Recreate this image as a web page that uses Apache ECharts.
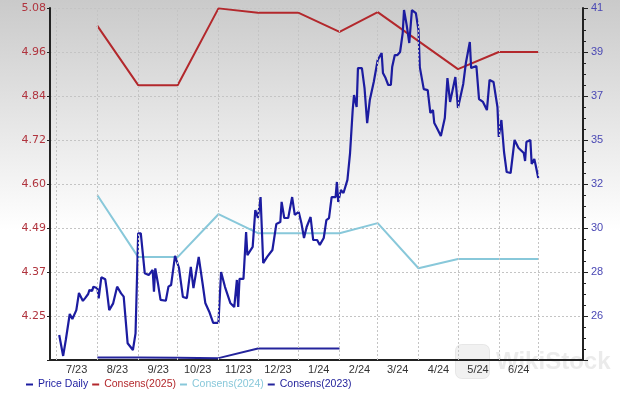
<!DOCTYPE html>
<html>
<head>
<meta charset="utf-8">
<title>Price and Consensus</title>
<script src="https://cdn.jsdelivr.net/npm/echarts@6/dist/echarts.min.js"></script>
<style>
  html, body { margin: 0; padding: 0; background: #fff; }
  #chart { width: 620px; height: 398px; }
</style>
</head>
<body>
<div id="chart"></div>
<script>
// x range and month labels
const xStart = '2023-06-26'
const xEnd = '2024-08-04'
const priceStart = [2023, 6, 1] // day 0 of priceDays (Jul 1 2023)
const monthKeys = ['2023-7', '2023-8', '2023-9', '2023-10', '2023-11', '2023-12', '2024-1', '2024-2', '2024-3', '2024-4', '2024-5', '2024-6']
const monthLabels = ['7/23', '8/23', '9/23', '10/23', '11/23', '12/23', '1/24', '2/24', '3/24', '4/24', '5/24', '6/24']
const gridMonths = ['2023-07-01', '2023-08-01', '2023-09-01', '2023-10-01', '2023-11-01', '2023-12-01', '2024-01-01', '2024-02-01', '2024-03-01', '2024-04-01', '2024-05-01', '2024-06-01', '2024-07-01']

// tick labels
const leftStep = 0.118
const leftTickLabels = ['4.25', '4.37', '4.49', '4.60', '4.72', '4.84', '4.96', '5.08']
const rightStep = 2.16
const rightTickLabels = ['26', '28', '30', '32', '35', '37', '39', '41']

// daily price (days after Jul 1 2023)
const priceDays = [2, 5, 7, 10, 12, 15, 17, 20, 22, 24, 25, 27, 28, 31, 32, 34, 37, 38, 40, 43,
  46, 49, 51, 54, 58, 60, 62, 64, 67, 70, 73, 74, 75, 77, 79, 83, 85, 87, 90, 93,
  96, 99, 102, 104, 108, 111, 113, 116, 119, 123, 125, 128, 132, 135, 137, 138, 139, 142, 144, 145,
  149, 151, 153, 155, 157, 160, 164, 167, 170, 171, 173, 176, 179, 181, 184, 186, 188, 190, 193, 195,
  198, 200, 203, 205, 207, 209, 212, 213, 214, 216, 218, 221, 223, 225, 226, 228, 229, 232, 234, 236,
  238, 241, 244, 247, 248, 250, 252, 254, 255, 257, 259, 261, 263, 264, 266, 268, 270, 273, 275, 276,
  279, 282, 284, 286, 287, 289, 292, 295, 297, 299, 303, 305, 309, 311, 314, 315, 319, 321, 324, 327,
  329, 332, 335, 336, 338, 340, 342, 345, 348, 351, 355, 356, 357, 360, 361, 363, 364, 366]
const priceValues = [24.99, 23.96, 24.74, 26.02, 25.77, 26.21, 27.05, 26.66, 26.82, 27.00, 27.20, 27.15, 27.36, 27.28, 26.79, 27.82, 27.72, 27.28, 26.21, 26.54,
  27.36, 27.03, 26.87, 24.58, 24.25, 25.07, 29.98, 29.98, 28.02, 27.93, 28.18, 27.11, 28.26, 27.53, 26.71, 26.67, 27.36, 27.44, 28.87, 28.28,
  26.85, 26.80, 28.33, 27.29, 28.82, 27.49, 26.56, 26.13, 25.58, 25.58, 28.08, 27.34, 26.56, 26.36, 27.69, 26.36, 27.74, 27.74, 30.04, 28.91,
  29.31, 31.12, 30.73, 31.76, 28.52, 28.82, 29.16, 30.44, 30.53, 31.52, 30.73, 30.73, 31.76, 30.88, 31.03, 30.49, 29.75, 30.29, 30.78, 29.65,
  29.65, 29.41, 29.75, 30.63, 30.73, 31.76, 31.76, 32.50, 31.52, 32.11, 31.96, 32.60, 33.92, 36.03, 36.77, 36.18, 38.09, 38.09, 37.11, 35.39,
  36.52, 37.41, 38.49, 38.83, 37.85, 37.60, 37.26, 37.26, 38.14, 38.73, 38.73, 38.88, 39.81, 40.94, 40.21, 39.32, 40.94, 40.79, 39.96, 38.14,
  37.06, 37.01, 35.89, 36.03, 35.39, 35.15, 34.76, 35.64, 37.60, 36.43, 37.65, 36.13, 37.31, 38.34, 39.37, 38.09, 38.19, 36.57, 36.43, 36.03,
  37.51, 37.41, 36.18, 34.71, 35.54, 33.97, 32.99, 32.94, 34.56, 34.17, 33.92, 33.53, 34.46, 34.56, 33.38, 33.63, 33.33, 32.69]

// consensus estimates, first of each month Aug 2023 .. Jul 2024
const consMonths = ['2023-08-01', '2023-09-01', '2023-10-01', '2023-11-01', '2023-12-01', '2024-01-01', '2024-02-01', '2024-03-01', '2024-04-01', '2024-05-01', '2024-06-01', '2024-07-01']
const cons2025 = [5.026, 4.867, 4.867, 5.073, 5.061, 5.061, 5.010, 5.063, null, 4.910, 4.956, 4.956]
const cons2024 = [4.572, 4.406, 4.406, 4.521, 4.470, 4.470, 4.470, 4.497, 4.376, 4.401, 4.401, 4.401]
const cons2023 = [4.137, 4.137, 4.136, 4.135, 4.161, 4.161, 4.161]

const colors = {
  price: '#1c1ca0',
  c2025: '#b3282c',
  c2024: '#88c8da',
  c2023: '#24249c'
}

const pricePairs = priceDays.map((d, i) => [new Date(priceStart[0], priceStart[1], priceStart[2] + d).getTime(), priceValues[i]])
const pairs = (vals) => vals.map((v, i) => [consMonths[i], v])

const chart = echarts.init(document.getElementById('chart'))

chart.setOption({
  animation: false,
  backgroundColor: {
    type: 'linear', x: 0, y: 0, x2: 0, y2: 1,
    colorStops: [
      { offset: 0, color: '#cacaca' },
      { offset: 0.58, color: '#ffffff' },
      { offset: 1, color: '#ffffff' }
    ]
  },
  textStyle: { fontFamily: 'Liberation Sans' },
  grid: { left: 50, right: 37, top: 8, bottom: 38 },
  legend: {
    left: 21,
    bottom: 3,
    icon: 'rect',
    itemWidth: 7,
    itemHeight: 2,
    itemGap: 4,
    formatter: name => '{t|' + name + '}',
    textStyle: {
      fontSize: 10.5,
      fontFamily: 'Liberation Sans',
      rich: { t: { width: 70, fontSize: 10.5, fontFamily: 'Liberation Sans' } }
    },
    data: [
      { name: 'Price Daily', textStyle: { color: colors.price } },
      { name: 'Consens(2025)', textStyle: { color: colors.c2025 } },
      { name: 'Consens(2024)', textStyle: { color: colors.c2024 } },
      { name: 'Consens(2023)', textStyle: { color: colors.c2023 } }
    ]
  },
  xAxis: {
    type: 'time',
    min: xStart,
    max: xEnd,
    minInterval: 28 * 86400000,
    maxInterval: 31 * 86400000,
    axisLine: { lineStyle: { color: '#222', width: 2 } },
    axisTick: { show: false },
    splitLine: { show: false },
    axisLabel: {
      color: '#333',
      fontSize: 11,
      margin: 4,
      align: 'center',
      padding: [0, 0, 0, 40],
      showMinLabel: false,
      showMaxLabel: false,
      formatter: function (v) {
        const d = new Date(v)
        if (d.getDate() !== 1) return ''
        const i = monthKeys.indexOf(d.getFullYear() + '-' + (d.getMonth() + 1))
        return i < 0 ? '' : monthLabels[i]
      }
    }
  },
  yAxis: [
    {
      type: 'value',
      position: 'left',
      min: 35 * leftStep,
      max: 43 * leftStep,
      interval: leftStep,
      axisLine: { show: true, lineStyle: { color: '#222', width: 2 } },
      axisTick: { show: true, length: 3, lineStyle: { color: '#222' } },
      splitLine: { lineStyle: { color: '#c4c4c4', type: [2, 2] } },
      axisLabel: {
        color: '#b0343e',
        fontSize: 11,
        fontFamily: 'DejaVu Sans',
        margin: 4,
        formatter: function (v) {
          return leftTickLabels[Math.round(v / leftStep) - 36] || ''
        }
      }
    },
    {
      type: 'value',
      position: 'right',
      min: 11 * rightStep,
      max: 19 * rightStep,
      interval: rightStep,
      axisLine: { show: true, lineStyle: { color: '#222', width: 2 } },
      axisTick: { show: true, length: 5, lineStyle: { color: '#222' } },
      minorTick: { show: true, splitNumber: 4, length: 3, lineStyle: { color: '#222' } },
      splitLine: { show: false },
      axisLabel: {
        color: '#4a48b4',
        fontSize: 11,
        margin: 8,
        formatter: function (v) {
          return rightTickLabels[Math.round(v / rightStep) - 12] || ''
        }
      }
    }
  ],
  graphic: [
    {
      type: 'rect',
      left: 455, top: 344,
      shape: { width: 34, height: 34, r: 6 },
      style: { fill: 'rgba(210,210,210,0.3)', stroke: 'rgba(200,200,200,0.35)' },
      silent: true
    },
    {
      type: 'text',
      left: 496, top: 350,
      style: { text: 'WikiStock', fill: 'rgba(205,205,205,0.4)', font: 'bold 24px Liberation Sans' },
      silent: true
    }
  ],
  series: [
    {
      name: 'grid',
      type: 'line',
      data: [],
      z: 1,
      silent: true,
      markLine: {
        silent: true,
        symbol: 'none',
        label: { show: false },
        lineStyle: { color: '#c4c4c4', type: [2, 2], width: 1 },
        data: gridMonths.map(m => ({ xAxis: m }))
      }
    },
    {
      name: 'Consens(2024)',
      type: 'line',
      yAxisIndex: 0,
      data: pairs(cons2024),
      symbol: 'none',
      z: 3,
      lineStyle: { color: colors.c2024, width: 2 },
      itemStyle: { color: colors.c2024 }
    },
    {
      name: 'Consens(2023)',
      type: 'line',
      yAxisIndex: 0,
      data: pairs(cons2023),
      symbol: 'none',
      z: 3,
      lineStyle: { color: colors.c2023, width: 2 },
      itemStyle: { color: colors.c2023 }
    },
    {
      name: 'Consens(2025)',
      type: 'line',
      yAxisIndex: 0,
      data: pairs(cons2025),
      connectNulls: true,
      symbol: 'none',
      z: 3,
      lineStyle: { color: colors.c2025, width: 2 },
      itemStyle: { color: colors.c2025 }
    },
    {
      name: 'Price Daily',
      type: 'line',
      yAxisIndex: 1,
      data: pricePairs,
      symbol: 'none',
      z: 4,
      lineStyle: { color: colors.price, width: 2.2 },
      itemStyle: { color: colors.price }
    }
  ]
})
</script>
</body>
</html>
